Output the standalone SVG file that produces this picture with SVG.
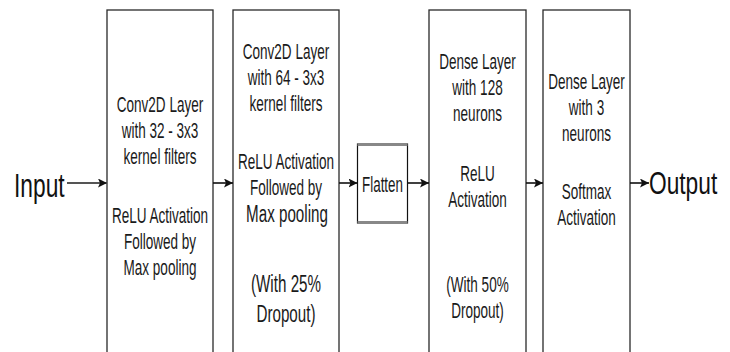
<svg xmlns="http://www.w3.org/2000/svg" width="730" height="352" viewBox="0 0 730 352">
<style>
.box{fill:#fff;stroke:#2a2a2a;stroke-width:1.3}
.t{font-family:"Liberation Sans",Arial,sans-serif;font-size:22px;fill:#1a1a1a;text-anchor:middle}
.tb{font-size:24.5px}
.big{font-family:"Liberation Sans",Arial,sans-serif;font-size:33px;fill:#111}
.c{stroke:#111;stroke-width:1.6;fill:none;marker-end:url(#ah)}
</style>
<defs>
<marker id="ah" markerUnits="userSpaceOnUse" markerWidth="10" markerHeight="10" refX="9" refY="4.5" orient="auto">
<path d="M0,0 L9,4.5 L0,9 L2,4.5 z" fill="#111"/>
</marker>
</defs>
<rect width="730" height="352" fill="#fff"/>
<g id="input"><text class="big" transform="translate(14,197) scale(0.69,1)">Input</text></g>
<g id="conv1">
<rect class="box" x="107" y="10" width="106" height="360"/>
<text class="t" transform="translate(160,112) scale(0.615,1)">Conv2D Layer</text>
<text class="t" transform="translate(160,138) scale(0.615,1)">with 32 - 3x3</text>
<text class="t" transform="translate(160,164) scale(0.615,1)">kernel filters</text>
<text class="t" transform="translate(160,223) scale(0.615,1)">ReLU Activation</text>
<text class="t" transform="translate(160,249) scale(0.615,1)">Followed by</text>
<text class="t" transform="translate(160,275) scale(0.615,1)">Max pooling</text>
</g>
<g id="conv2">
<rect class="box" x="233" y="10" width="106" height="360"/>
<text class="t" transform="translate(286,59) scale(0.615,1)">Conv2D Layer</text>
<text class="t" transform="translate(286,85) scale(0.615,1)">with 64 - 3x3</text>
<text class="t" transform="translate(286,111) scale(0.615,1)">kernel filters</text>
<text class="t" transform="translate(286,169) scale(0.615,1)">ReLU Activation</text>
<text class="t" transform="translate(286,195) scale(0.615,1)">Followed by</text>
<text class="t tb" transform="translate(287,222) scale(0.62,1)">Max pooling</text>
<text class="t tb" transform="translate(286,292) scale(0.62,1)">(With 25%</text>
<text class="t tb" transform="translate(286,322) scale(0.62,1)">Dropout)</text>
</g>
<g id="flatten">
<rect x="357.5" y="144" width="50" height="79" fill="#fff" stroke="#111" stroke-width="1.2"/>
<line x1="357.5" y1="144.5" x2="407.5" y2="144.5" stroke="#888" stroke-width="3"/>
<line x1="357.5" y1="222.5" x2="407.5" y2="222.5" stroke="#888" stroke-width="3"/>
<text class="t" transform="translate(382.5,192) scale(0.61,1)">Flatten</text>
</g>
<g id="dense1">
<rect class="box" x="429" y="10" width="97" height="360"/>
<text class="t" transform="translate(477.5,69) scale(0.615,1)">Dense Layer</text>
<text class="t" transform="translate(477.5,95) scale(0.615,1)">with 128</text>
<text class="t" transform="translate(477.5,121) scale(0.615,1)">neurons</text>
<text class="t" transform="translate(477.5,181) scale(0.615,1)">ReLU</text>
<text class="t" transform="translate(477.5,207) scale(0.615,1)">Activation</text>
<text class="t" transform="translate(477.5,292) scale(0.615,1)">(With 50%</text>
<text class="t" transform="translate(477.5,318) scale(0.615,1)">Dropout)</text>
</g>
<g id="dense2">
<rect class="box" x="543" y="10" width="87" height="360"/>
<text class="t" transform="translate(586.5,89) scale(0.615,1)">Dense Layer</text>
<text class="t" transform="translate(586.5,115) scale(0.615,1)">with 3</text>
<text class="t" transform="translate(586.5,141) scale(0.615,1)">neurons</text>
<text class="t" transform="translate(586.5,199) scale(0.615,1)">Softmax</text>
<text class="t" transform="translate(586.5,225) scale(0.615,1)">Activation</text>
</g>
<g id="output"><text class="big" style="font-size:32px" transform="translate(649,194) scale(0.71,1)">Output</text></g>
<g id="connectors">
<line class="c" x1="67" y1="183" x2="107" y2="183" style="stroke:#555;stroke-width:2"/>
<line class="c" x1="213" y1="183" x2="233" y2="183"/>
<line class="c" x1="339" y1="183" x2="357.5" y2="183"/>
<line class="c" x1="407.5" y1="183" x2="429" y2="183"/>
<line class="c" x1="526" y1="183" x2="543" y2="183"/>
<line class="c" x1="630" y1="183" x2="649" y2="183"/>
</g>
</svg>
